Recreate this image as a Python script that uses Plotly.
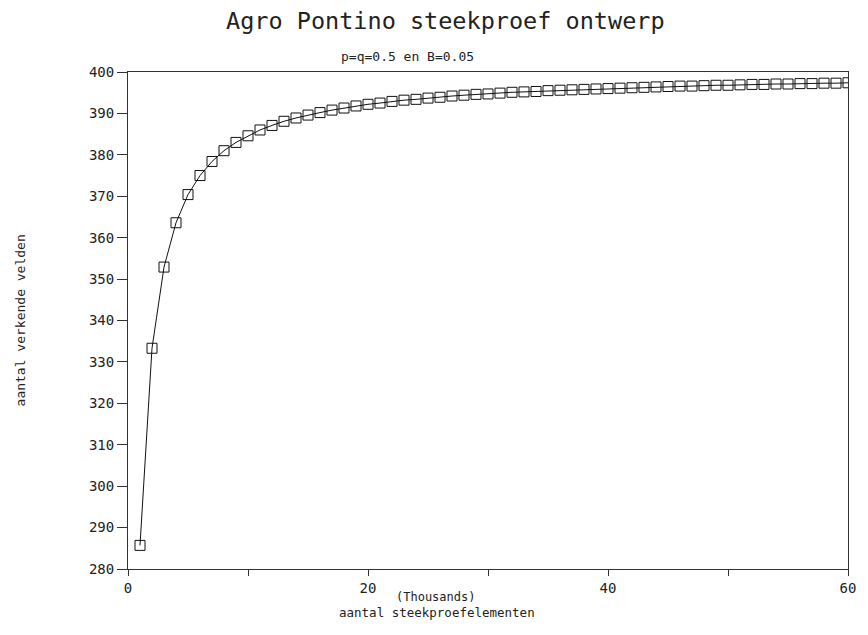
import plotly.graph_objects as go

# steekproefgrootte N (duizenden) en aantal te verkennen velden n
n_thousands = list(range(1, 61))
n_fields = [
    285.7, 333.3, 352.9, 363.6, 370.4, 375.0, 378.4, 381.0, 383.0, 384.6,
    386.0, 387.1, 388.1, 388.9, 389.6, 390.2, 390.8, 391.3, 391.8, 392.2,
    392.5, 392.9, 393.2, 393.4, 393.7, 393.9, 394.2, 394.4, 394.6, 394.7,
    394.9, 395.1, 395.2, 395.3, 395.5, 395.6, 395.7, 395.8, 395.9, 396.0,
    396.1, 396.2, 396.3, 396.4, 396.5, 396.6, 396.6, 396.7, 396.8, 396.8,
    396.9, 397.0, 397.0, 397.1, 397.1, 397.2, 397.2, 397.3, 397.3, 397.4,
]
x_ticks = [0, 10, 20, 30, 40, 50, 60]
x_labels = ["0", "", "20", "", "40", "", "60"]
y_ticks = list(range(280, 401, 10))

font = "DejaVu Sans Mono"

# plot area in page pixels (page has an 8px body margin)
L, R, T, B = 128, 851, 72, 569
W, H = R - L, B - T
FIG_W, FIG_H = 860, 619


def px(x):
    return (x - L) / W


def py(y):
    return (B - y) / H


fig = go.Figure()

fig.add_trace(go.Scatter(
    x=n_thousands,
    y=n_fields,
    mode="lines+markers",
    line=dict(color="#111", width=1),
    marker=dict(symbol="square-open", size=10, color="#111", line=dict(width=1)),
    showlegend=False
))

fig.update_layout(
    width=FIG_W,
    height=FIG_H,
    paper_bgcolor="white",
    plot_bgcolor="white",
    margin=dict(l=L - 8, r=FIG_W - (R - 8), t=T - 8, b=FIG_H - (B - 8)),
    font=dict(family=font, color="#222", size=12),
    xaxis=dict(
        range=[0, 60],
        tickvals=x_ticks,
        ticktext=x_labels,
        ticks="outside",
        ticklen=6,
        tickcolor="#333",
        showline=True,
        linecolor="#333",
        linewidth=1,
        mirror=True,
        showgrid=False,
        zeroline=False,
        tickfont=dict(size=14),
    ),
    yaxis=dict(
        range=[280, 400],
        tickvals=y_ticks,
        ticks="outside",
        ticklen=10,
        tickcolor="#333",
        showline=True,
        linecolor="#333",
        linewidth=1,
        mirror=True,
        showgrid=False,
        zeroline=False,
        tickfont=dict(size=14),
    ),
)

texts = [
    ("Agro Pontino steekproef ontwerp", 447, 21, 23.5, 0),
    ("p=q=0.5 en B=0.05", 409, 57, 13, 0),
    ("(Thousands)", 437, 597, 12, 0),
    ("aantal steekproefelementen", 438, 612, 12.5, 0),
    ("aantal verkende velden", 20, 320, 13, -90),
]
for txt, x, y, size, angle in texts:
    fig.add_annotation(text=txt, x=px(x), y=py(y), xref="paper", yref="paper",
                       xanchor="center", yanchor="middle", textangle=angle,
                       showarrow=False, borderpad=0,
                       font=dict(size=size, family=font))

fig.write_html("out.html")
